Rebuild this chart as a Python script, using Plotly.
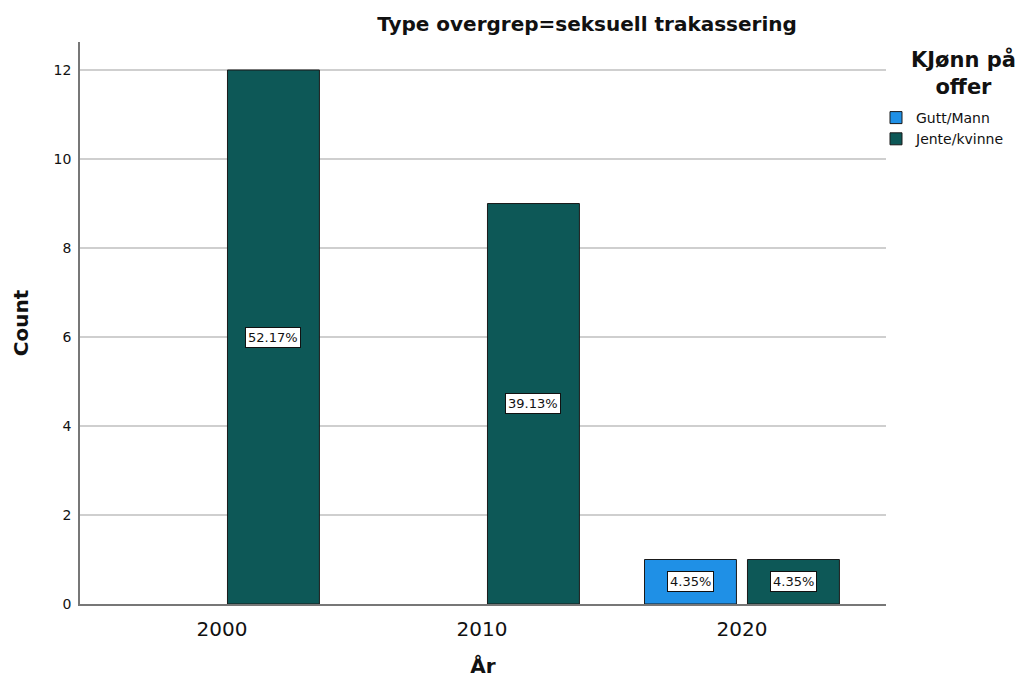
import plotly.graph_objects as go

years = ["2000", "2010", "2020"]
gutt_counts = [None, None, 1]
jente_counts = [12, 9, 1]
gutt_pct = [None, None, "4.35%"]
jente_pct = ["52.17%", "39.13%", "4.35%"]
series_names = ["Gutt/Mann", "Jente/kvinne"]
colors = ["#1f90e6", "#0d5857"]

FONT = "DejaVu Sans"
BARGAP = 0.208
BARGROUPGAP = 0.107
OFF = 8  # page body margin
W, H = 1035 - OFF, 680 - OFF
L, T = 80 - OFF, 42 - OFF
R, B = W - (886 - OFF), H - (604 - OFF)
PW, PH = W - L - R, H - T - B


def px_x(page_x):
    return (page_x - OFF - L) / PW


def px_y(page_y):
    return (H - B - (page_y - OFF)) / PH


fig = go.Figure()
for name, vals, col in zip(series_names, [gutt_counts, jente_counts], colors):
    fig.add_trace(go.Bar(
        x=years, y=vals, name=name,
        marker=dict(color=col, line=dict(color="#1a1a1a", width=1)),
        hoverinfo="skip",
    ))

# percentage labels in boxes, centered in each bar
slot = (1 - BARGAP) / 2
for k, (vals, pcts) in enumerate([(gutt_counts, gutt_pct), (jente_counts, jente_pct)]):
    offset = (k - 0.5) * slot
    for i, (v, p) in enumerate(zip(vals, pcts)):
        if v is None or p is None:
            continue
        fig.add_annotation(
            x=i + offset, y=v / 2, xref="x", yref="y", text=p, showarrow=False,
            font=dict(family=FONT, size=13, color="#111"),
            bgcolor="white", bordercolor="#111", borderwidth=1, borderpad=2,
        )

# legend title
fig.add_annotation(
    x=px_x(963), y=px_y(73), xref="paper", yref="paper",
    text="<b>KJønn på<br>offer</b>", showarrow=False,
    xanchor="center", yanchor="middle",
    font=dict(family=FONT, size=21, color="#111"),
)

fig.update_layout(
    width=W, height=H,
    margin=dict(l=L, r=R, t=T, b=B, autoexpand=False),
    paper_bgcolor="white", plot_bgcolor="white",
    barmode="group", bargap=BARGAP, bargroupgap=BARGROUPGAP,
    title=dict(text="<b>Type overgrep=seksuell trakassering</b>", x=px_x(587), xanchor="center",
               xref="paper", y=1 - (24 - OFF) / H, yanchor="middle", yref="container",
               font=dict(family=FONT, size=20, color="#111"), automargin=False),
    showlegend=True,
    legend=dict(x=px_x(876), y=px_y(102), xanchor="left", yanchor="top",
                font=dict(family=FONT, size=14, color="#111"),
                tracegroupgap=0, itemwidth=30),
    font=dict(family=FONT, color="#111"),
)

fig.update_xaxes(
    type="category", range=[-0.546, 2.554], automargin=False,
    showline=True, linecolor="#777", linewidth=1.5, ticks="",
    tickfont=dict(family=FONT, size=20, color="#111"), ticklabelstandoff=6,
    title=dict(text="<b>År</b>", font=dict(family=FONT, size=20, color="#111"), standoff=19),
    showgrid=False, zeroline=False,
)
fig.update_yaxes(
    range=[0, 12.63], tickvals=[0, 2, 4, 6, 8, 10, 12], automargin=False,
    showline=True, linecolor="#777", linewidth=1.5,
    showgrid=True, gridcolor="#cfcfcf", gridwidth=1.5, zeroline=False,
    tickfont=dict(family=FONT, size=14, color="#111"), ticks="", ticklabelstandoff=4,
    title=dict(text="<b>Count</b>", font=dict(family=FONT, size=20, color="#111"), standoff=20),
)

fig.write_html("out.html")
